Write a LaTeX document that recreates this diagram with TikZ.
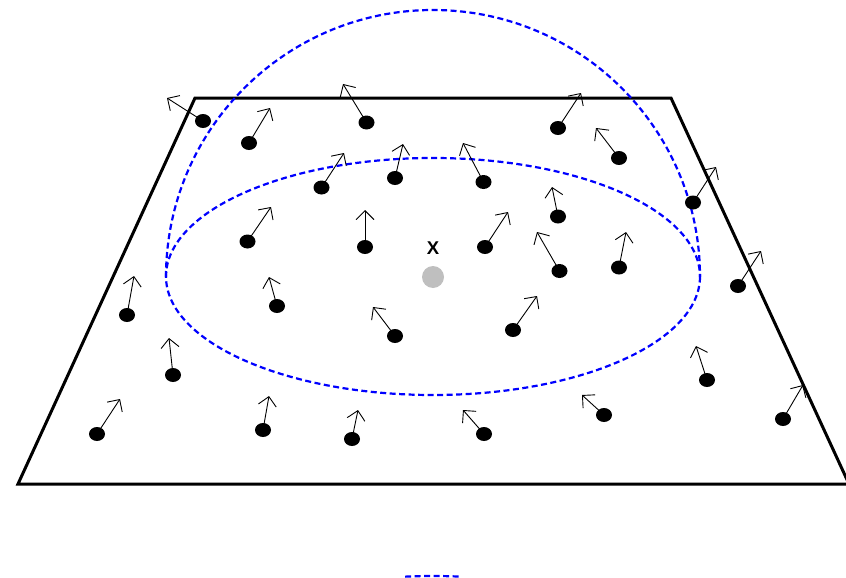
\documentclass[tikz,border=0pt]{standalone}
\usepackage{fontspec}
\setmainfont{Liberation Sans}
\usetikzlibrary{arrows.meta,shapes.geometric}
\tikzset{
  dot/.style={ellipse, fill=black, inner sep=0pt, minimum width=16pt, minimum height=14pt},
  vec/.style={draw=black, line width=0.9pt, -{Straight Barb[length=9pt,width=18pt,line width=0.9pt]}, shorten <=-4pt},
  plane/.style={draw=black, line width=3pt},
  hemi/.style={draw=blue, line width=2.2pt, dash pattern=on 6pt off 3.5pt},
  center/.style={circle, fill=black!25, inner sep=0pt, minimum size=22pt},
}
\begin{document}
\begin{tikzpicture}[x=1pt,y=-1pt]
\useasboundingbox (0,0) rectangle (846,578);
% plane
\draw[plane] (18,484) -- (195,98) -- (671,98) -- (849,484) -- cycle;
% hemisphere and base circle
\draw[hemi] (166,277) arc[start angle=180, end angle=0, x radius=267, y radius=-267];
\draw[hemi] (433,276.5) ellipse[x radius=267, y radius=118.5];
\draw[hemi] (433,694) ++(96:267 and -118) arc[start angle=96, end angle=84, x radius=267, y radius=-118];
% centre
\node[center] (x) at (433,277) {};
\node[font=\bfseries\fontsize{18.5}{18.5}\selectfont, inner sep=0pt] (xl) at (433,248.5) {X};
% particles with vectors
\foreach \n/\px/\py/\tx/\ty in {
 1/203/121/167/98, 2/249/143/270/108, 3/366.5/122.5/343/84, 4/558/128/581/93,
 5/619/158/596/128, 6/321.5/187.5/344/153, 7/395/178/403/144, 8/483.5/182/463/143,
 9/558/216.5/552/187, 10/693/202.5/716/167, 11/247.5/241.5/271/207, 12/365/247/365/210,
 13/485/247/508/212, 14/559.5/271/537/232, 15/619/267.5/626/232, 16/738/286/761/251,
 17/127/315/134/276, 18/277/306/269/277, 19/395/336/373/307, 20/513/330/537/296,
 21/173/375/169/338, 22/707/380/696/346, 23/97/434/120/399, 24/263/430/269/396,
 25/352/439/358/410, 26/484/434/463/410, 27/604/415/582/395, 28/783/419/803/385}{
  \coordinate (t\n) at (\tx,\ty);
  \node[dot] (p\n) at (\px,\py) {};
  \draw[vec] (p\n) -- (t\n);
}
\end{tikzpicture}
\end{document}
